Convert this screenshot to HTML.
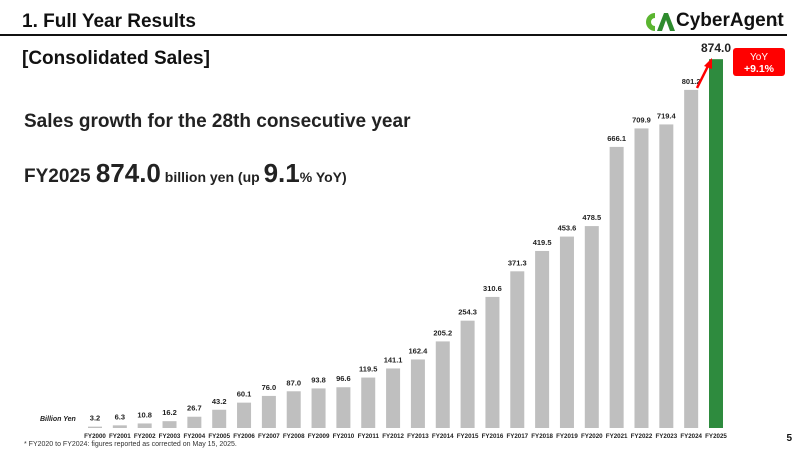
<!DOCTYPE html>
<html><head><meta charset="utf-8"><style>
body{margin:0;background:#fff;}
svg{display:block;font-family:"Liberation Sans",sans-serif;}
</style></head><body>
<svg width="800" height="450" viewBox="0 0 800 450" xmlns="http://www.w3.org/2000/svg">
<text x="22" y="27" font-size="19" font-weight="bold" fill="#111">1.  Full Year Results</text>
<line x1="0" y1="35" x2="787" y2="35" stroke="#111" stroke-width="2"/>
<g transform="translate(643,10)">
<path d="M12 3 a9 9 0 1 0 0 18 l0 -5 a4 4 0 1 1 0 -8z" fill="#5bb530"/>
<path d="M14 21 l7 -18 h4 l7 18 h-5 l-4 -11 l-4 11z" fill="#2e8b2e"/>
</g>
<text x="676" y="26" font-size="19" font-weight="bold" fill="#111">CyberAgent</text>
<text x="774" y="26" font-size="5" fill="#111">®</text>
<text x="22" y="64" font-size="19" font-weight="bold" fill="#111">[Consolidated Sales]</text>
<text x="24" y="127" font-size="19" font-weight="bold" fill="#222">Sales growth for the 28th consecutive year</text>
<text x="24" y="182" fill="#222" font-weight="bold"><tspan font-size="19">FY2025 </tspan><tspan font-size="26">874.0</tspan><tspan font-size="14"> billion yen (up </tspan><tspan font-size="26">9.1</tspan><tspan font-size="14">% YoY)</tspan></text>
<text x="40" y="421" font-size="7" font-style="italic" font-weight="bold" fill="#222">Billion Yen</text>
<g id="bars"></g>
<rect x="733" y="48" width="52" height="28" rx="3" fill="#f00"/>
<text x="759" y="60" font-size="10" fill="#fff" text-anchor="middle">YoY</text>
<text x="759" y="72" font-size="10.5" font-weight="bold" fill="#fff" text-anchor="middle">+9.1%</text>
<line x1="697" y1="88" x2="709" y2="64" stroke="#f00" stroke-width="2.5"/>
<polygon points="712,58 704,66 712,69" fill="#f00"/>
<text x="24" y="446" font-size="7" fill="#333">*  FY2020 to FY2024: figures reported as corrected on May 15, 2025.</text>
<text x="792" y="441" font-size="10" font-weight="bold" fill="#111" text-anchor="end">5</text>
</svg>
<script>
var v=[3.2,6.3,10.8,16.2,26.7,43.2,60.1,76.0,87.0,93.8,96.6,119.5,141.1,162.4,205.2,254.3,310.6,371.3,419.5,453.6,478.5,666.1,709.9,719.4,801.2,874.0];
var g=document.getElementById('bars'),s='';
for(var i=0;i<v.length;i++){var cx=95+i*24.84,h=v[i]*0.422,y=428-h,last=i==25;
s+='<rect x="'+(cx-7)+'" y="'+y+'" width="14" height="'+h+'" fill="'+(last?'#2e8b3e':'#bfbfbf')+'"/>';
s+='<text x="'+cx+'" y="'+(y-(last?7:6))+'" font-size="'+(last?12:7.5)+'" font-weight="bold" fill="#222" text-anchor="middle">'+v[i].toFixed(1)+'</text>';
s+='<text x="'+cx+'" y="438" font-size="6.2" font-weight="bold" fill="#222" text-anchor="middle">FY'+(2000+i)+'</text>';}
g.innerHTML=s;
</script>
</body></html>
